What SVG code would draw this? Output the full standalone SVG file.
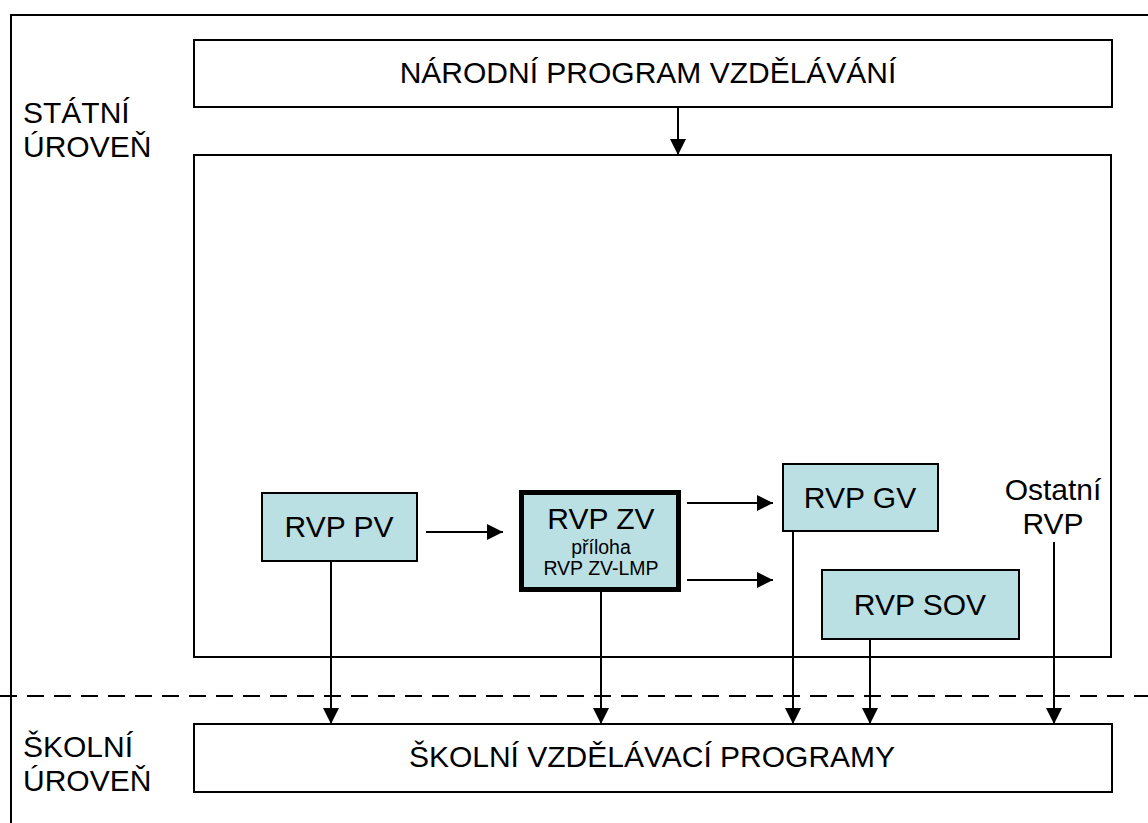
<svg xmlns="http://www.w3.org/2000/svg" width="1148" height="823" viewBox="0 0 1148 823">
<defs>
<marker id="ah" markerWidth="16" markerHeight="16" refX="16" refY="8" orient="auto" markerUnits="userSpaceOnUse">
<path d="M0,0 L16,8 L0,16 Z" fill="#000"/>
</marker>
<style>
.box{fill:#fff;stroke:#000;stroke-width:2}
.rvp{fill:#BBE0E3;stroke:#000;stroke-width:2}
.t{font-family:"Liberation Sans",Arial,sans-serif;fill:#000}
.big{font-size:30px}
.mid{font-size:30px}
.sm{font-size:19.5px}
.c{text-anchor:middle}
.con{stroke:#000;stroke-width:2;fill:none}
.arr{stroke:#000;stroke-width:2;fill:none;marker-end:url(#ah)}
</style>
</defs>
<rect width="1148" height="823" fill="#fff"/>
<path d="M11,823 V15 H1148" class="con"/>
<line x1="0" y1="696" x2="1148" y2="696" stroke="#000" stroke-width="2" stroke-dasharray="17,10"/>
<g id="label-statni">
<text class="t mid" x="23" y="123">STÁTNÍ</text>
<text class="t mid" x="23" y="157">ÚROVEŇ</text>
</g>
<g id="label-skolni">
<text class="t mid" x="23" y="757">ŠKOLNÍ</text>
<text class="t mid" x="23" y="791">ÚROVEŇ</text>
</g>
<g id="narodni">
<rect class="box" x="194" y="40" width="918" height="67"/>
<text class="t big c" x="648" y="83">NÁRODNÍ PROGRAM VZDĚLÁVÁNÍ</text>
</g>
<g id="rvp-container">
<rect class="box" x="194" y="155" width="917" height="502"/>
</g>
<g id="rvp-pv">
<rect class="rvp" x="262" y="493" width="155" height="68"/>
<text class="t mid c" x="339" y="537">RVP PV</text>
</g>
<g id="rvp-zv">
<rect x="521.5" y="492.5" width="157" height="97" fill="#BBE0E3" stroke="#000" stroke-width="5"/>
<text class="t mid c" x="601" y="529">RVP ZV</text>
<text class="t sm c" x="601" y="554">příloha</text>
<text class="t sm c" x="601" y="575">RVP ZV-LMP</text>
</g>
<g id="rvp-gv">
<rect class="rvp" x="783" y="464" width="155" height="67"/>
<text class="t mid c" x="860" y="508">RVP GV</text>
</g>
<g id="rvp-sov">
<rect class="rvp" x="822" y="570" width="197" height="69"/>
<text class="t mid c" x="920" y="615">RVP SOV</text>
</g>
<g id="ostatni">
<text class="t mid c" x="1053" y="500">Ostatní</text>
<text class="t mid c" x="1053" y="534">RVP</text>
</g>
<g id="skolni">
<rect class="box" x="194" y="724" width="918" height="68"/>
<text class="t big c" x="652" y="767">ŠKOLNÍ VZDĚLÁVACÍ PROGRAMY</text>
</g>
<g id="connectors">
<line class="arr" x1="678" y1="107" x2="678" y2="155"/>
<line class="arr" x1="426" y1="532" x2="503" y2="532"/>
<line class="arr" x1="687" y1="503" x2="773" y2="503"/>
<line class="arr" x1="687" y1="580" x2="773" y2="580"/>
<line class="arr" x1="331" y1="561" x2="331" y2="724"/>
<line class="arr" x1="601" y1="592" x2="601" y2="724"/>
<line class="arr" x1="793" y1="531" x2="793" y2="724"/>
<line class="arr" x1="870" y1="639" x2="870" y2="724"/>
<line class="arr" x1="1054" y1="542" x2="1054" y2="724"/>
</g>
</svg>
